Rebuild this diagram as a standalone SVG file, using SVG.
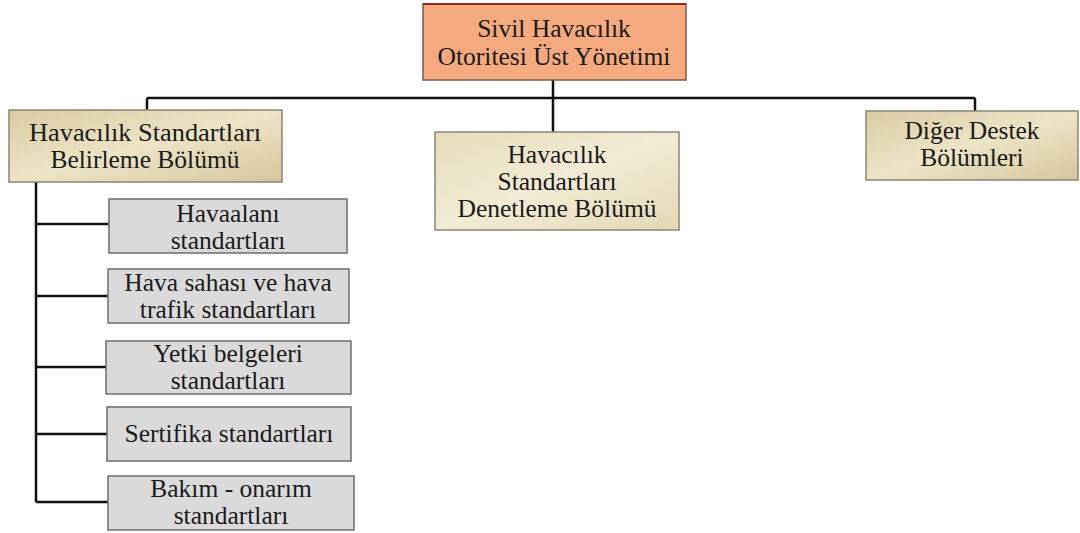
<svg xmlns="http://www.w3.org/2000/svg" width="1080" height="533" viewBox="0 0 1080 533">
<defs>
<linearGradient id="tan" x1="0" y1="0" x2="1" y2="1">
<stop offset="0" stop-color="#D9CBA3"/>
<stop offset="0.5" stop-color="#EDE3C6"/>
<stop offset="1" stop-color="#D6C69D"/>
</linearGradient>
<linearGradient id="tan2" x1="0" y1="0" x2="1" y2="1">
<stop offset="0" stop-color="#E6DCBC"/>
<stop offset="0.5" stop-color="#F2EBD5"/>
<stop offset="1" stop-color="#E3D7B4"/>
</linearGradient>
<style>
text{font-family:'Liberation Serif',serif;font-size:25.5px;fill:#1a1a1a;text-anchor:middle}
.top rect{fill:#F5A97E;stroke:#7a5a4a;stroke-width:1.5}
.dept rect{fill:url(#tan);stroke:#8a8578;stroke-width:1.5}
.sub rect{fill:#DADADA;stroke:#6e6e6e;stroke-width:1.5}
.conn path{fill:none;stroke:#111;stroke-width:2.5}
</style>
</defs>
<rect width="1080" height="533" fill="#fff"/>
<g class="conn">
<path d="M553 80V132"/>
<path d="M147 98H975"/>
<path d="M147 98V110"/>
<path d="M975 98V111"/>
<path d="M36 182V502"/>
<path d="M36 224H109"/>
<path d="M36 296H108"/>
<path d="M36 367H106"/>
<path d="M36 434H107"/>
<path d="M36 502H108"/>
</g>
<g id="n-top" class="top">
<rect x="423" y="4" width="263" height="76"/>
<line x1="423" y1="4" x2="686" y2="4" stroke="#8b2a1e" stroke-width="2"/>
<text x="554" y="37">Sivil Havacılık</text>
<text x="554" y="65">Otoritesi Üst Yönetimi</text>
</g>
<g id="n-belirleme" class="dept">
<rect x="9" y="110" width="273" height="72"/>
<text x="145" y="141" textLength="232" lengthAdjust="spacingAndGlyphs">Havacılık Standartları</text>
<text x="145" y="168">Belirleme Bölümü</text>
</g>
<g id="n-denetleme" class="dept">
<rect x="435" y="132" width="244" height="98" style="fill:url(#tan2)"/>
<text x="557" y="163">Havacılık</text>
<text x="557" y="190">Standartları</text>
<text x="557" y="217">Denetleme Bölümü</text>
</g>
<g id="n-diger" class="dept">
<rect x="866" y="111" width="212" height="69"/>
<text x="972" y="139">Diğer Destek</text>
<text x="972" y="166">Bölümleri</text>
</g>
<g id="n-havaalani" class="sub">
<rect x="109" y="199" width="238" height="54"/>
<text x="228" y="222">Havaalanı</text>
<text x="228" y="249">standartları</text>
</g>
<g id="n-hava-sahasi" class="sub">
<rect x="108" y="269" width="241" height="54"/>
<text x="228" y="291">Hava sahası ve hava</text>
<text x="228" y="318">trafik standartları</text>
</g>
<g id="n-yetki" class="sub">
<rect x="106" y="341" width="245" height="53"/>
<text x="228" y="362">Yetki belgeleri</text>
<text x="228" y="389">standartları</text>
</g>
<g id="n-sertifika" class="sub">
<rect x="107" y="407" width="244" height="54"/>
<text x="229" y="442">Sertifika standartları</text>
</g>
<g id="n-bakim" class="sub">
<rect x="108" y="476" width="246" height="54"/>
<text x="231" y="497">Bakım - onarım</text>
<text x="231" y="524">standartları</text>
</g>
</svg>
